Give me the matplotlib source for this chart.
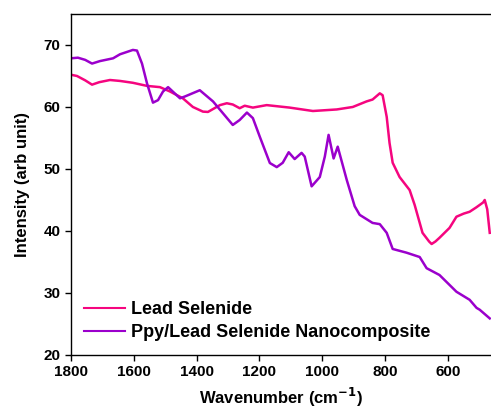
import matplotlib

matplotlib.use("Agg")

import matplotlib.pyplot as plt

plt.rcParams["font.family"] = ["Liberation Sans", "DejaVu Sans"]
plt.rcParams["font.weight"] = "bold"
plt.rcParams["mathtext.default"] = "bf"

# Lead Selenide (wavenumber, intensity)
pbse_wn = [1800, 1781, 1755, 1733, 1710, 1676, 1644, 1603, 1558, 1517, 1485,
           1444, 1412, 1380, 1364, 1326, 1304, 1285, 1263, 1247, 1221, 1177,
           1104, 1030, 954, 903, 859, 840, 817, 808, 795, 786, 776, 754, 722,
           706, 681, 660, 652, 640, 627, 595, 573, 550, 531, 510, 499, 488,
           483, 475, 467]
pbse_int = [65.2, 65.0, 64.3, 63.6, 64.0, 64.35, 64.2, 63.9, 63.4, 63.2, 62.5,
            61.4, 60.0, 59.25, 59.2, 60.3, 60.6, 60.4, 59.8, 60.2, 59.9, 60.3,
            59.9, 59.35, 59.6, 60.0, 60.9, 61.2, 62.2, 61.9, 58.4, 54.2, 51.0,
            48.7, 46.6, 44.2, 39.7, 38.3, 37.9, 38.3, 38.9, 40.5, 42.3, 42.8,
            43.1, 43.8, 44.2, 44.6, 45.0, 43.5, 39.7]

# Ppy/Lead Selenide nanocomposite
ppy_wn = [1800, 1778, 1755, 1733, 1708, 1666, 1644, 1603, 1590, 1574, 1558,
          1539, 1523, 1507, 1491, 1453, 1437, 1390, 1348, 1285, 1263, 1240,
          1221, 1199, 1167, 1145, 1126, 1107, 1088, 1066, 1056, 1034, 1008,
          992, 980, 964, 951, 922, 897, 881, 840, 817, 795, 776, 754, 732,
          690, 668, 627, 585, 573, 531, 509, 499, 467]
ppy_int = [67.85, 67.95, 67.6, 67.0, 67.4, 67.85, 68.5, 69.2, 69.1, 67.0, 63.8,
           60.7, 61.1, 62.5, 63.2, 61.4, 61.7, 62.7, 60.9, 57.1, 57.9, 59.1,
           58.2, 55.2, 50.96, 50.3, 51.0, 52.7, 51.6, 52.6, 52.0, 47.2, 48.7,
           52.0, 55.5, 51.7, 53.6, 48.2, 44.0, 42.6, 41.3, 41.1, 39.7, 37.1,
           36.8, 36.5, 35.8, 34.0, 32.9, 30.8, 30.2, 28.9, 27.6, 27.3, 25.9]

pink = "#F5057F"
purple = "#9B00CC"

fig = plt.figure(figsize=(4.91, 4.11), dpi=100)
ax = fig.add_axes([0.1446, 0.1363, 0.8554, 0.8297])

ax.plot(pbse_wn, pbse_int, color=pink, lw=1.8, label="Lead Selenide")
ax.plot(ppy_wn, ppy_int, color=purple, lw=1.8,
        label="Ppy/Lead Selenide Nanocomposite")

ax.set_xlim(1800, 463)
ax.set_ylim(20, 75)
ax.set_xticks([1800, 1600, 1400, 1200, 1000, 800, 600])
ax.set_yticks([20, 30, 40, 50, 60, 70])
ax.tick_params(labelsize=11, length=4, width=1, direction="out")
ax.spines["right"].set_visible(False)
for side in ["left", "bottom", "top"]:
    ax.spines[side].set_linewidth(1)

ax.set_xlabel("Wavenumber (cm$^{-1}$)", fontsize=12, fontweight="bold",
              labelpad=5)
ax.set_ylabel("Intensity (arb unit)", fontsize=12, fontweight="bold",
              labelpad=10)

leg = ax.legend(loc="lower left", frameon=False, fontsize=13,
                handlelength=2.3, handletextpad=0.3, labelspacing=0.35,
                borderaxespad=0.0, borderpad=0.0,
                bbox_to_anchor=(0.03, 0.04))
for line in leg.get_lines():
    line.set_linewidth(1.5)

fig.savefig("out.png", dpi=100)
